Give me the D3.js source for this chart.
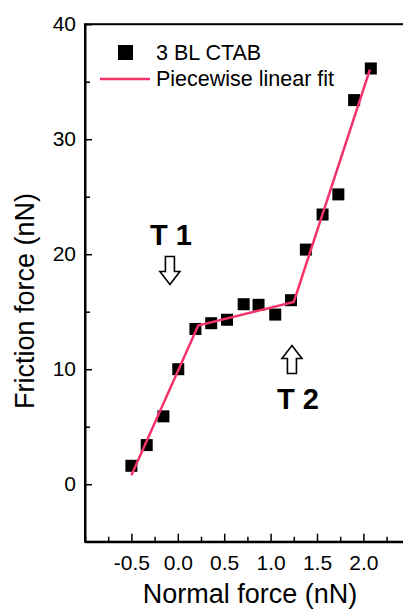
<!DOCTYPE html>
<html>
<head>
<meta charset="utf-8">
<script src="https://cdn.jsdelivr.net/npm/d3@7"></script>
<style>
  html, body { margin: 0; padding: 0; background: #fff; overflow: hidden; }
  svg { display: block; font-family: "Liberation Sans", Arial, sans-serif; }
</style>
</head>
<body>
<svg id="chart" width="403" height="610"></svg>
<script>
// ---- data ----
const normalForce = [-0.50, -0.335, -0.155, 0.005, 0.19, 0.36, 0.53, 0.71, 0.87, 1.05, 1.22, 1.38, 1.56, 1.73, 1.90, 2.08];
const frictionForce = [1.6, 3.4, 5.9, 10.0, 13.5, 14.0, 14.3, 15.65, 15.6, 14.75, 16.0, 20.4, 23.45, 25.2, 33.4, 36.15];
const fitX = [-0.5, 0.22, 1.25, 2.07];
const fitY = [0.78, 13.8, 15.85, 36.05];
const xTickLabels = [-0.5, 0.0, 0.5, 1.0, 1.5, 2.0];
const yTickLabels = [0, 10, 20, 30, 40];
const xMinorTicks = [-1.0, -0.75, -0.25, 0.25, 0.75, 1.25, 1.75, 2.25];
const yMinorTicks = [-5, 5, 15, 25, 35];
const seriesNames = ["3 BL CTAB", "Piecewise linear fit"];
const transitionLabels = ["T 1", "T 2"];
const transitionPos = [{x: -0.085, dir: "down"}, {x: 1.23, dir: "up"}];

const fitColor = "#f5336a";

const svg = d3.select("#chart");
const mLeft = 85, mRight = 409.8, mTop = 24.2, mBottom = 541.7;

const x = d3.scaleLinear().domain([-1, 2.5]).range([mLeft, mRight]);
const y = d3.scaleLinear().domain([-5, 40]).range([mBottom, mTop]);

// frame
svg.append("rect")
  .attr("x", mLeft).attr("y", mTop)
  .attr("width", mRight - mLeft).attr("height", mBottom - mTop)
  .attr("fill", "none").attr("stroke", "#000").attr("stroke-width", 2);

// x axis
const xAxis = d3.axisBottom(x).tickValues(xTickLabels).tickSizeInner(-8).tickSizeOuter(0)
  .tickFormat(d => d3.format(".1f")(d).replace("\u2212", "-")).tickPadding(13);
const gx = svg.append("g").attr("transform", `translate(0,${mBottom})`).call(xAxis);
gx.select(".domain").attr("stroke-width", 2);
gx.selectAll(".tick line").attr("stroke-width", 1.5);
gx.selectAll(".tick text").attr("font-size", 21).attr("fill", "#000")
  .attr("font-family", "Liberation Sans, Arial, sans-serif");
const xMinor = d3.axisBottom(x).tickValues(xMinorTicks).tickSizeInner(-5).tickSizeOuter(0).tickFormat("");
const gxm = svg.append("g").attr("transform", `translate(0,${mBottom})`).call(xMinor);
gxm.select(".domain").remove();
gxm.selectAll(".tick line").attr("stroke-width", 1.5);

// y axis
const yAxis = d3.axisLeft(y).tickValues(yTickLabels).tickSizeInner(-7).tickSizeOuter(0).tickPadding(9);
const gy = svg.append("g").attr("transform", `translate(${mLeft},0)`).call(yAxis);
gy.select(".domain").attr("stroke-width", 2);
gy.selectAll(".tick line").attr("stroke-width", 1.5);
gy.selectAll(".tick text").attr("font-size", 21).attr("fill", "#000")
  .attr("font-family", "Liberation Sans, Arial, sans-serif");
const yMinor = d3.axisLeft(y).tickValues(yMinorTicks).tickSizeInner(-5).tickSizeOuter(0).tickFormat("");
const gym = svg.append("g").attr("transform", `translate(${mLeft},0)`).call(yMinor);
gym.select(".domain").remove();
gym.selectAll(".tick line").attr("stroke-width", 1.5);

// axis titles
svg.append("text")
  .attr("x", 250).attr("y", 603)
  .attr("text-anchor", "middle").attr("font-size", 27).attr("fill", "#000")
  .text("Normal force (nN)");
svg.append("text")
  .attr("transform", `translate(34,301) rotate(-90)`)
  .attr("text-anchor", "middle").attr("font-size", 27).attr("fill", "#000")
  .text("Friction force (nN)");

// data points
const pts = normalForce.map((v, i) => ({x: v, y: frictionForce[i]}));
const ms = 12;
svg.append("g").selectAll("rect").data(pts).join("rect")
  .attr("x", d => x(d.x) - ms / 2).attr("y", d => y(d.y) - ms / 2)
  .attr("width", ms).attr("height", ms).attr("fill", "#000");

// fit line
const fitPts = fitX.map((v, i) => [v, fitY[i]]);
svg.append("path")
  .datum(fitPts)
  .attr("d", d3.line().x(d => x(d[0])).y(d => y(d[1])))
  .attr("fill", "none").attr("stroke", fitColor).attr("stroke-width", 2.5);

// legend
svg.append("rect").attr("x", 118).attr("y", 45).attr("width", 15).attr("height", 15).attr("fill", "#000");
svg.append("text").attr("x", 156).attr("y", 60).attr("font-size", 21.5).attr("fill", "#000").text(seriesNames[0]);
svg.append("line").attr("x1", 100).attr("x2", 150).attr("y1", 79).attr("y2", 79)
  .attr("stroke", fitColor).attr("stroke-width", 2.5);
svg.append("text").attr("x", 156).attr("y", 86).attr("font-size", 21.5).attr("fill", "#000").text(seriesNames[1]);

// transition annotations (hollow arrows + bold labels)
function arrow(cx, y0, dir) {
  const L = 28, hw = 10, sw = 4.5, hh = 13;
  const s = dir === "down" ? -1 : 1;
  const p = [
    [cx, y0],
    [cx + hw, y0 + s * hh],
    [cx + sw, y0 + s * hh],
    [cx + sw, y0 + s * L],
    [cx - sw, y0 + s * L],
    [cx - sw, y0 + s * hh],
    [cx - hw, y0 + s * hh]
  ];
  svg.append("polygon").attr("points", p.map(q => q.join(",")).join(" "))
    .attr("fill", "#fff").attr("stroke", "#000").attr("stroke-width", 1.6)
    .attr("stroke-linejoin", "miter");
}
svg.append("text").attr("x", 150).attr("y", 245).attr("font-size", 29).attr("font-weight", "bold")
  .attr("fill", "#000").text(transitionLabels[0]);
arrow(x(transitionPos[0].x), 284.5, transitionPos[0].dir);
svg.append("text").attr("x", 277).attr("y", 409).attr("font-size", 29).attr("font-weight", "bold")
  .attr("fill", "#000").text(transitionLabels[1]);
arrow(x(transitionPos[1].x), 345.5, transitionPos[1].dir);
</script>
</body>
</html>
